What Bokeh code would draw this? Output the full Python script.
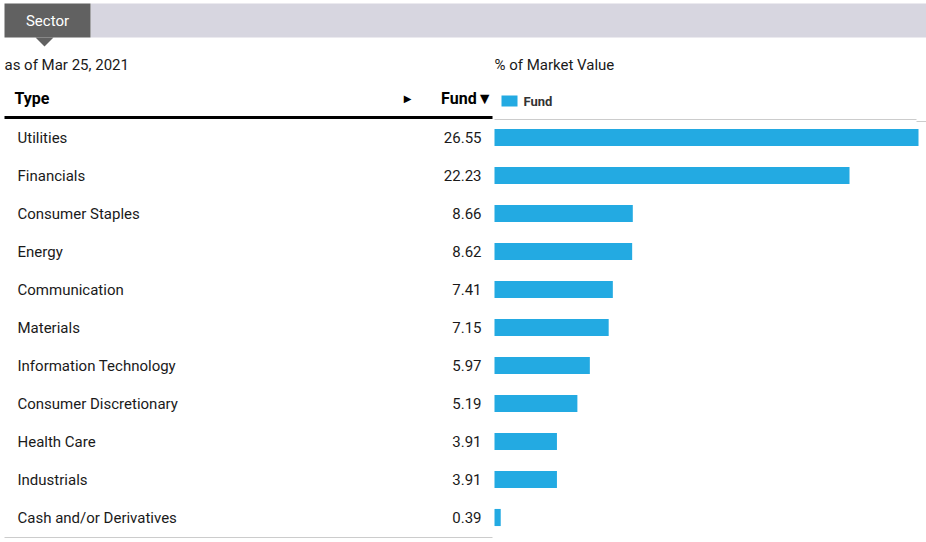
from bokeh.plotting import figure
from bokeh.models import Range1d, ColumnDataSource
from bokeh.core.properties import value
from bokeh.embed import file_html
from bokeh.resources import INLINE

sectors = ["Utilities", "Financials", "Consumer Staples", "Energy", "Communication",
           "Materials", "Information Technology", "Consumer Discretionary",
           "Health Care", "Industrials", "Cash and/or Derivatives"]
fund = [26.55, 22.23, 8.66, 8.62, 7.41, 7.15, 5.97, 5.19, 3.91, 3.91, 0.39]
fund_labels = ["%.2f" % v for v in fund]
tab_label = "Sector"
as_of = "as of Mar 25, 2021"
chart_title = "% of Market Value"
series_name = "Fund"

FONT = "Roboto"
BLUE = "#23aae2"
TXT = "#1a1a1a"

W, H = 926, 542
p = figure(width=W, height=H, output_backend="svg", toolbar_location=None,
           x_range=Range1d(0, W), y_range=Range1d(H, 0),
           min_border=0, outline_line_color=None)
p.axis.visible = False
p.grid.visible = False
p.background_fill_color = "white"
p.border_fill_color = "white"

# extra ranges: rows (index) and percentage scale for the bars
px_per_unit = 15.97
row0, row_step = 137.0, 38.0
p.extra_y_ranges = {"rows": Range1d((H - row0) / row_step, -row0 / row_step)}
p.extra_x_ranges = {"pct": Range1d(-494 / px_per_unit, (W - 494) / px_per_unit)}

# header band and tab
p.quad(left=90, right=926, top=3, bottom=37, fill_color="#d7d6e0", line_color=None)
p.quad(left=4, right=90, top=3, bottom=37, fill_color="#616161", line_color=None)
p.patch(x=[35, 53, 44], y=[37, 37, 46], fill_color="#616161", line_color=None)
p.text(x=[47], y=[20], text=[tab_label], text_color="white", text_font=value(FONT),
       text_font_size="15px", text_align="center", text_baseline="middle")

p.text(x=[4], y=[64], text=[as_of], text_color=TXT, text_font=value(FONT),
       text_font_size="15px", text_align="left", text_baseline="middle")
p.text(x=[494], y=[64], text=[chart_title], text_color=TXT, text_font=value(FONT),
       text_font_size="15px", text_align="left", text_baseline="middle")

# table header
p.text(x=[14], y=[98], text=["Type"], text_color="black", text_font=value(FONT),
       text_font_size="16px", text_font_style="bold", text_align="left", text_baseline="middle")
p.text(x=[407], y=[98], text=["\u25B6"], text_color="black", text_font=value("DejaVu Sans"),
       text_font_size="10px", text_align="center", text_baseline="middle")
p.text(x=[492], y=[98], text=["Fund\u25BC"], text_color="black", text_font=value(FONT),
       text_font_size="16px", text_font_style="bold", text_align="right", text_baseline="middle")
p.segment(x0=[4], x1=[492], y0=[117], y1=[117], line_color="black", line_width=3)

# legend
p.quad(left=501, right=517, top=95, bottom=106, fill_color=BLUE, line_color=None)
p.text(x=[523], y=[101], text=[series_name], text_color="#333333", text_font=value(FONT),
       text_font_size="13px", text_font_style="bold", text_align="left", text_baseline="middle")
p.segment(x0=[494], x1=[916], y0=[119], y1=[119], line_color="#cccccc", line_width=1)
p.segment(x0=[916], x1=[926], y0=[121], y1=[121], line_color="#cccccc", line_width=1)

# rows
idx = list(range(len(sectors)))
src = ColumnDataSource(dict(idx=idx, sector=sectors, fund=fund, label=fund_labels))
p.text(x=17, y="idx", text="sector", source=src, y_range_name="rows",
       text_color=TXT, text_font=value(FONT), text_font_size="15px",
       text_align="left", text_baseline="middle")
p.text(x=481, y="idx", text="label", source=src, y_range_name="rows",
       text_color=TXT, text_font=value(FONT), text_font_size="15px",
       text_align="right", text_baseline="middle")
p.hbar(y="idx", left=0, right="fund", height=0.45, source=src,
       x_range_name="pct", y_range_name="rows", fill_color=BLUE, line_color=None)

p.segment(x0=[4], x1=[492], y0=[537], y1=[537], line_color="#cccccc", line_width=1)

open("out.html", "w").write(file_html(p, INLINE))
